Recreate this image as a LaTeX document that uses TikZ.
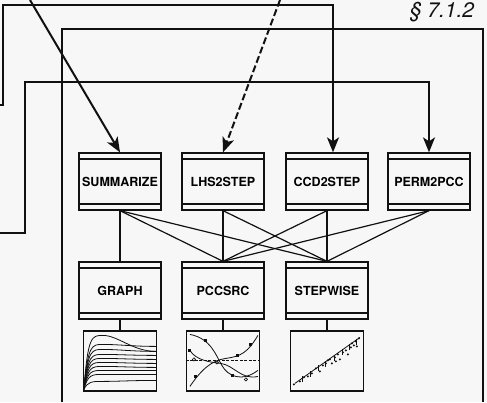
\documentclass[tikz,border=0pt]{standalone}
\usepackage{fontspec}
\setmainfont{TeX Gyre Heros}
\usetikzlibrary{arrows.meta}
\definecolor{ink}{HTML}{111111}
\definecolor{paper}{HTML}{F7F7F7}
\tikzset{
  prog/.style={draw=ink,line width=1.3pt,minimum width=82pt,minimum height=57pt,inner sep=0pt,
    font=\fontsize{12.5}{12.5}\selectfont\bfseries,
    path picture={\draw[ink,line width=1.2pt]
      ([yshift=-6pt]path picture bounding box.north west)--([yshift=-6pt]path picture bounding box.north east)
      ([yshift=6pt]path picture bounding box.south west)--([yshift=6pt]path picture bounding box.south east);}},
  plotbox/.style={draw=ink,line width=1.2pt,minimum width=73pt,minimum height=60pt,inner sep=0pt},
  feed/.style={ink,line width=2pt,-{Stealth[length=15pt,width=12pt,inset=4pt]}},
  link/.style={ink,line width=1.2pt}
}
\begin{document}
\begin{tikzpicture}[x=1pt,y=-1pt]
  \fill[paper] (0,0) rectangle (487,402);
  \useasboundingbox (0,0) rectangle (487,402);
  \draw[ink,line width=1.3pt] (62,402)--(62,29)--(483,29)--(483,402);
  \node[ink] (sec) at (442,12) {\fontsize{21}{21}\selectfont\itshape\S\ 7.1.2};
  \node[prog] (sum) at (120,181.5) {SUMMARIZE};
  \node[prog] (lhs) at (223,181.5) {LHS2STEP};
  \node[prog] (ccd) at (327,181.5) {CCD2STEP};
  \node[prog] (perm) at (429,181.5) {PERM2PCC};
  \node[prog] (graph) at (120,290.5) {GRAPH};
  \node[prog] (pcc) at (223,290.5) {PCCSRC};
  \node[prog] (step) at (327,290.5) {STEPWISE};
  \node[plotbox] (gplot) at (120,361) {};
  \node[plotbox] (pplot) at (223,361) {};
  \node[plotbox] (splot) at (327,361) {};
  \coordinate (in1) at (30,0);
  \coordinate (in2) at (280,0);
  \coordinate (in3) at (0,105);
  \coordinate (in4) at (0,233);
  \draw[feed] (in1)--(sum.north);
  \draw[feed,dash pattern=on 7pt off 3pt] (in2)--(lhs.north);
  \draw[feed] (in3)--(3,105)--(3,5)-|([xshift=6pt]ccd.north);
  \draw[feed] (in4)--(25,233)--(25,82)-|(perm.north);
  \foreach \a/\b in {sum/graph,sum/pcc,sum/step,lhs/pcc,lhs/step,ccd/pcc,ccd/step,perm/pcc,perm/step}
    {\draw[link] (\a.south)--(\b.north);}
  \foreach \a/\b in {graph/gplot,pcc/pplot,step/splot}
    {\draw[link] (\a.south)--(\b.north);}
  \begin{scope}[shift={(gplot.north west)},ink,line width=.8pt]
    \foreach \h/\e in {5/21,14/16,19/21,24/25,28/29,32/33,36/37,40/40,44/44,51/50}
      {\draw (1,59) .. controls (5,\h) and (9,\h) .. (20,\h) .. controls (35,\h) and (50,\e) .. (73,\e);}
  \end{scope}
  \begin{scope}[shift={(pplot.north west)},ink,line width=.8pt]
    \draw[dash pattern=on 3pt off 1.5pt] (0,30)--(73,30);
    \draw (4,4) .. controls (25,8) and (30,25) .. (36,35) .. controls (42,46) and (56,52) .. (72,40);
    \draw (4,56) .. controls (15,40) and (25,30) .. (40,28) .. controls (55,26) and (62,22) .. (72,5);
    \draw (4,20) .. controls (10,30) and (25,32) .. (35,33) .. controls (48,35) and (56,50) .. (72,46);
    \foreach \p in {(20,10),(47,45),(10,46),(52,25),(65,14),(4,20)}
      {\fill \p ++(-1.5,-1.5) rectangle ++(3,3);}
    \foreach \p in {(8,29),(31,32),(60,49)}
      {\draw[line width=.6pt] \p circle (1.6);}
  \end{scope}
  \begin{scope}[shift={(splot.north west)},ink,line width=.8pt]
    \draw (5,53)--(70,7);
    \foreach \p in {(4,54),(10,51),(14,47),(18,46),(22,43),(26,38),(30,41),(33,35),(36,33),(40,29),(42,33),
      (45,27),(48,24),(50,29),(53,22),(56,20),(58,24),(61,17),(64,15),(66,11),(69,8),(62,13),(46,31),(38,30),(67,16)}
      {\fill \p circle (1.1);}
    \foreach \p in {(12,49),(20,44),(28,38),(35,34),(44,28),(52,22),(59,17),(66,12)}
      {\draw[line width=.6pt] \p ++(0,-3)--++(0,6);}
  \end{scope}
\end{tikzpicture}
\end{document}
